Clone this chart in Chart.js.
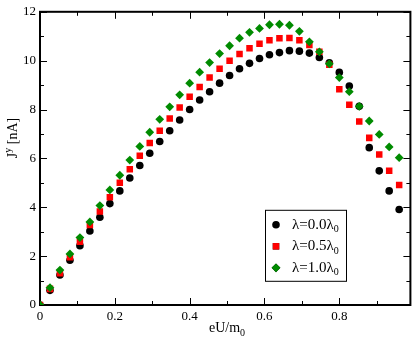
<!DOCTYPE html>
<html>
<head>
<meta charset="utf-8">
<script src="https://cdn.jsdelivr.net/npm/chart.js@4.4.0/dist/chart.umd.min.js"></script>
<style>
  html, body { margin: 0; padding: 0; background: #fff; }
</style>
</head>
<body>
<canvas id="chart" width="415" height="341"></canvas>
<script>
/* --------------- Data --------------------- */
const eU = [0, 0.0267, 0.0533, 0.08, 0.1067, 0.1333, 0.16, 0.1867, 0.2133, 0.24,
  0.2667, 0.2933, 0.32, 0.3467, 0.3733, 0.4, 0.4267, 0.4533, 0.48, 0.5067,
  0.5333, 0.56, 0.5867, 0.6133, 0.64, 0.6667, 0.6933, 0.72, 0.7467, 0.7733,
  0.8, 0.8267, 0.8533, 0.88, 0.9067, 0.9333, 0.96];

const lam00 = [0, 0.6, 1.23, 1.83, 2.43, 3.03, 3.59, 4.15, 4.67, 5.2,
  5.71, 6.21, 6.69, 7.13, 7.57, 8.0, 8.39, 8.73, 9.08, 9.39,
  9.67, 9.89, 10.09, 10.24, 10.33, 10.41, 10.39, 10.31, 10.13, 9.91,
  9.52, 8.96, 8.13, 6.44, 5.49, 4.67, 3.91];

const lam05 = [0, 0.66, 1.3, 1.95, 2.59, 3.27, 3.83, 4.41, 5.0, 5.56,
  6.11, 6.63, 7.13, 7.63, 8.08, 8.52, 8.92, 9.31, 9.67, 10.0,
  10.27, 10.51, 10.69, 10.84, 10.92, 10.93, 10.84, 10.64, 10.36, 9.83,
  8.83, 8.2, 7.51, 6.84, 6.16, 5.49, 4.91];

const lam10 = [0, 0.71, 1.43, 2.09, 2.76, 3.4, 4.07, 4.71, 5.31, 5.93,
  6.49, 7.07, 7.6, 8.11, 8.6, 9.08, 9.53, 9.92, 10.29, 10.61,
  10.92, 11.16, 11.32, 11.47, 11.49, 11.45, 11.2, 10.77, 10.36, 9.87,
  9.31, 8.73, 8.13, 7.53, 6.98, 6.47, 6.03];

const xTicks = [0, 0.1, 0.2, 0.3, 0.4, 0.5, 0.6, 0.7, 0.8, 0.9];
const yTicks = [0, 1, 2, 3, 4, 5, 6, 7, 8, 9, 10, 11, 12];

const seriesNames = ["λ=0.0λ", "λ=0.5λ", "λ=1.0λ"];
const seriesColors = ["#000000", "#ff0000", "#008b00"];
const seriesStyles = ["circle", "rect", "rectRot"];
const seriesRadius = [3.8, 4.6, 4.4];

const FONT = "'Liberation Serif', 'DejaVu Serif', serif";

const toPoints = (ys) => ys.map((y, i) => ({ x: eU[i], y: y }));

/* --------------- Frame, inward ticks, titles and legend --------------------- */
const framePlugin = {
  id: "frame",
  beforeDatasetsDraw(chart) {
    const ctx = chart.ctx;
    const a = chart.chartArea;
    const xs = chart.scales.x;
    const ys = chart.scales.y;
    ctx.save();
    ctx.strokeStyle = "#000";
    ctx.lineWidth = 1;
    xs.ticks.forEach((t) => {
      const px = Math.round(xs.getPixelForValue(t.value)) + 0.5;
      const len = Math.round(t.value * 10) % 2 === 0 ? 7 : 4;
      ctx.beginPath();
      ctx.moveTo(px, a.bottom); ctx.lineTo(px, a.bottom - len);
      ctx.moveTo(px, a.top); ctx.lineTo(px, a.top + len);
      ctx.stroke();
    });
    ys.ticks.forEach((t) => {
      const py = Math.round(ys.getPixelForValue(t.value)) + 0.5;
      const len = Math.round(t.value) % 2 === 0 ? 7 : 4;
      ctx.beginPath();
      ctx.moveTo(a.left, py); ctx.lineTo(a.left + len, py);
      ctx.moveTo(a.right, py); ctx.lineTo(a.right - len, py);
      ctx.stroke();
    });
    ctx.lineWidth = 2;
    ctx.strokeRect(a.left, a.top, a.right - a.left, a.bottom - a.top);
    ctx.restore();
  },
  afterDraw(chart) {
    const ctx = chart.ctx;
    const a = chart.chartArea;
    ctx.save();
    ctx.fillStyle = "#000";
    ctx.textBaseline = "alphabetic";

    // x title: eU/m0
    ctx.font = "14px " + FONT;
    const xMain = "eU/m";
    const wMain = ctx.measureText(xMain).width;
    ctx.font = "10px " + FONT;
    const wSub = ctx.measureText("0").width;
    let x0 = 227 - (wMain + wSub) / 2;
    ctx.font = "14px " + FONT;
    ctx.textAlign = "left";
    ctx.fillText(xMain, x0, 332);
    ctx.font = "10px " + FONT;
    ctx.fillText("0", x0 + wMain, 336);

    // y title: J^y [nA]
    ctx.translate(17, 138);
    ctx.rotate(-Math.PI / 2);
    ctx.font = "14px " + FONT;
    const wJ = ctx.measureText("J").width;
    ctx.font = "10px " + FONT;
    const wY = ctx.measureText("y").width;
    ctx.font = "14px " + FONT;
    const wRest = ctx.measureText(" [nA]").width;
    let s = -(wJ + wY + wRest) / 2;
    ctx.fillText("J", s, 0);
    ctx.font = "10px " + FONT;
    ctx.fillText("y", s + wJ, -6);
    ctx.font = "14px " + FONT;
    ctx.fillText(" [nA]", s + wJ + wY, 0);
    ctx.restore();

    // legend
    const bx = a.left + 225, by = a.top + 198, bw = 81, bh = 71;
    ctx.save();
    ctx.fillStyle = "#fff";
    ctx.fillRect(bx, by, bw, bh);
    ctx.strokeStyle = "#000";
    ctx.lineWidth = 1;
    ctx.strokeRect(bx + 0.5, by + 0.5, bw, bh);
    chart.data.datasets.forEach((ds, i) => {
      const cy = by + 15 + i * 21.5;
      Chart.helpers.drawPoint(ctx, {
        pointStyle: ds.pointStyle,
        radius: ds.pointRadius,
        borderWidth: 0,
        rotation: 0
      }, bx + 11, cy);
      ctx.fillStyle = ds.pointBackgroundColor;
      ctx.fill();
      ctx.fillStyle = "#000";
      ctx.font = "15px " + FONT;
      ctx.textBaseline = "middle";
      ctx.textAlign = "left";
      ctx.fillText(ds.label, bx + 27, cy);
      const w = ctx.measureText(ds.label).width;
      ctx.font = "10px " + FONT;
      ctx.fillText("0", bx + 27 + w, cy + 5);
    });
    ctx.restore();
  }
};

/* --------------- Chart --------------------- */
const datasets = [lam00, lam05, lam10].map((ys, i) => ({
  label: seriesNames[i],
  data: toPoints(ys),
  showLine: false,
  pointStyle: seriesStyles[i],
  pointRadius: seriesRadius[i],
  pointBackgroundColor: seriesColors[i],
  pointBorderColor: seriesColors[i],
  pointBorderWidth: 0,
  order: 2 - i
}));

new Chart(document.getElementById("chart"), {
  type: "scatter",
  data: { datasets: datasets },
  plugins: [framePlugin],
  options: {
    responsive: false,
    animation: false,
    layout: { padding: { top: 5, right: 3, left: 0, bottom: 0 } },
    plugins: {
      legend: { display: false },
      tooltip: { enabled: false }
    },
    scales: {
      x: {
        type: "linear",
        min: 0,
        max: 0.99,
        afterBuildTicks: (s) => { s.ticks = xTicks.map((v) => ({ value: v })); },
        afterFit: (s) => { s.height = 36; },
        grid: { display: false, drawTicks: false },
        border: { display: false },
        ticks: {
          padding: 4,
          color: "#000",
          font: { family: FONT, size: 13 },
          maxRotation: 0,
          autoSkip: false,
          callback: (v) => (Math.round(v * 10) % 2 === 0 ? String(Math.round(v * 10) / 10) : "")
        },
        title: { display: false }
      },
      y: {
        min: 0,
        max: 12,
        afterBuildTicks: (s) => { s.ticks = yTicks.map((v) => ({ value: v })); },
        afterFit: (s) => { s.width = 40; },
        grid: { display: false, drawTicks: false },
        border: { display: false },
        ticks: {
          padding: 4,
          color: "#000",
          font: { family: FONT, size: 13 },
          autoSkip: false,
          callback: (v) => (Math.round(v) % 2 === 0 ? String(v) : "")
        },
        title: { display: false }
      }
    }
  }
});
</script>
</body>
</html>
